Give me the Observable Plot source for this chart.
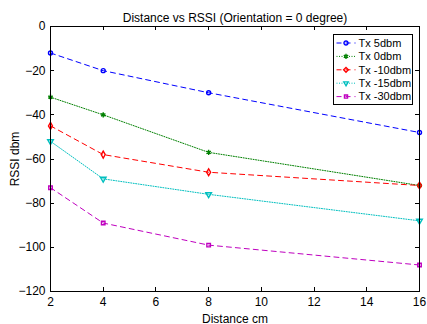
<!DOCTYPE html>
<html><head><meta charset="utf-8">
<script src="https://cdn.jsdelivr.net/npm/d3@7"></script>
<script src="https://cdn.jsdelivr.net/npm/@observablehq/plot@0.6"></script>
<style>
body{margin:0;background:#fff}
svg{font-family:"Liberation Sans",Arial,sans-serif}
</style>
</head><body><div id="chart"></div>
<script>
const distances = [2, 4, 8, 16];
const seriesNames = ["Tx 5dbm", "Tx 0dbm", "Tx -10dbm", "Tx -15dbm", "Tx -30dbm"];
const tx5 = [-12, -20, -30, -48];
const tx0 = [-32, -40, -57, -72];
const txm10 = [-45, -58, -66, -72];
const txm15 = [-52, -69, -76, -88];
const txm30 = [-73, -89, -99, -108];
const xTicks = [2, 4, 6, 8, 10, 12, 14, 16];
const yTicks = [0, -20, -40, -60, -80, -100, -120];
const titleText = "Distance vs RSSI (Orientation = 0 degree)";
const xLabel = "Distance cm";
const yLabel = "RSSI dbm";

const styles = [
  {color: "#0000ff", dash: "5,4", symbol: "circle", fill: "none", rotate: 0, r: 2},
  {color: "#008000", dash: "1,1.5", symbol: "asterisk", fill: "#008000", rotate: 0, r: 2.4},
  {color: "#ff0000", dash: "5,4", symbol: "diamond", fill: "none", rotate: 0, r: 2.1},
  {color: "#00bfbf", dash: "1,1.5", symbol: "triangle", fill: "none", rotate: 180, r: 2.1},
  {color: "#bf00bf", dash: "5,4", symbol: "square", fill: "none", rotate: 0, r: 2}
];
const allValues = [tx5, tx0, txm10, txm15, txm30];
const series = seriesNames.map((name, i) => ({
  name, style: styles[i],
  data: distances.map((d, j) => ({x: d, y: allValues[i][j]}))
}));

const marks = [];
series.forEach(s => {
  marks.push(Plot.line(s.data, {x: "x", y: "y", stroke: s.style.color, strokeWidth: 1, strokeDasharray: s.style.dash}));
  marks.push(Plot.dot(s.data, {x: "x", y: "y", stroke: s.style.color, fill: s.style.fill, symbol: s.style.symbol, r: s.style.r, rotate: s.style.rotate, strokeWidth: 1.4}));
});

const plot = Plot.plot({
  width: 427, height: 324,
  marginLeft: 50, marginRight: 8, marginTop: 26, marginBottom: 33,
  style: {fontFamily: '"Liberation Sans", Arial, sans-serif', fontSize: "12px", background: "#fff", color: "#000"},
  x: {domain: [2, 16]},
  y: {domain: [-120, 0]},
  marks: [
    Plot.axisX(xTicks, {tickSize: 0, tickPadding: 6, label: xLabel, labelAnchor: "center", labelArrow: "none", labelOffset: 31, fontSize: 12}),
    Plot.axisY(yTicks, {tickSize: 0, tickPadding: 5, label: yLabel, labelAnchor: "center", labelArrow: "none", labelOffset: 40, fontSize: 12}),
    ...marks,
    Plot.frame({stroke: "#000", strokeWidth: 1}),
    Plot.text([titleText], {frameAnchor: "top", dy: -13, fontSize: 12, fill: "#000"})
  ]
});

// inward ticks on all four sides
const sx = plot.scale("x"), sy = plot.scale("y");
const svg = d3.select(plot.tagName === "svg" ? plot : plot.querySelector("svg"));
const L = 50, R = 427 - 8, T = 26, B = 324 - 33, tl = 4;
const g = svg.append("g").attr("stroke", "#000").attr("stroke-width", 1);
xTicks.forEach(v => {
  const px = Math.round(sx.apply(v)) + 0.5;
  g.append("line").attr("x1", px).attr("x2", px).attr("y1", B).attr("y2", B - tl);
  g.append("line").attr("x1", px).attr("x2", px).attr("y1", T).attr("y2", T + tl);
});
yTicks.forEach(v => {
  const py = Math.round(sy.apply(v)) + 0.5;
  g.append("line").attr("x1", L).attr("x2", L + tl).attr("y1", py).attr("y2", py);
  g.append("line").attr("x1", R).attr("x2", R - tl).attr("y1", py).attr("y2", py);
});

// legend
const lg = svg.append("g").attr("transform", "translate(333.5,34.5)");
lg.append("rect").attr("width", 79).attr("height", 70).attr("fill", "#fff").attr("stroke", "#000").attr("stroke-width", 1);
const symMap = {circle: d3.symbolCircle, asterisk: d3.symbolAsterisk, diamond: d3.symbolDiamond2, triangle: d3.symbolTriangle2, square: d3.symbolSquare2};
const sizes = {circle: 13, asterisk: 18, diamond: 14, triangle: 14, square: 12};
series.forEach((s, i) => {
  const y = 8.5 + i * 13.4;
  const row = lg.append("g").attr("transform", `translate(0,${y})`);
  row.append("line").attr("x1", 3).attr("x2", 22).attr("y1", 0).attr("y2", 0)
    .attr("stroke", s.style.color).attr("stroke-dasharray", s.style.dash).attr("stroke-width", 1);
  row.append("path").attr("d", d3.symbol(symMap[s.style.symbol], sizes[s.style.symbol])())
    .attr("transform", `translate(12.5,0) rotate(${s.style.rotate})`)
    .attr("stroke", s.style.color).attr("fill", s.style.fill).attr("stroke-width", 1.4);
  row.append("text").attr("x", 25).attr("y", 0).attr("dy", "0.35em")
    .attr("font-size", 11).attr("text-anchor", "start").attr("fill", "#000").text(s.name);
});

document.getElementById("chart").append(plot);
</script>
</body></html>
